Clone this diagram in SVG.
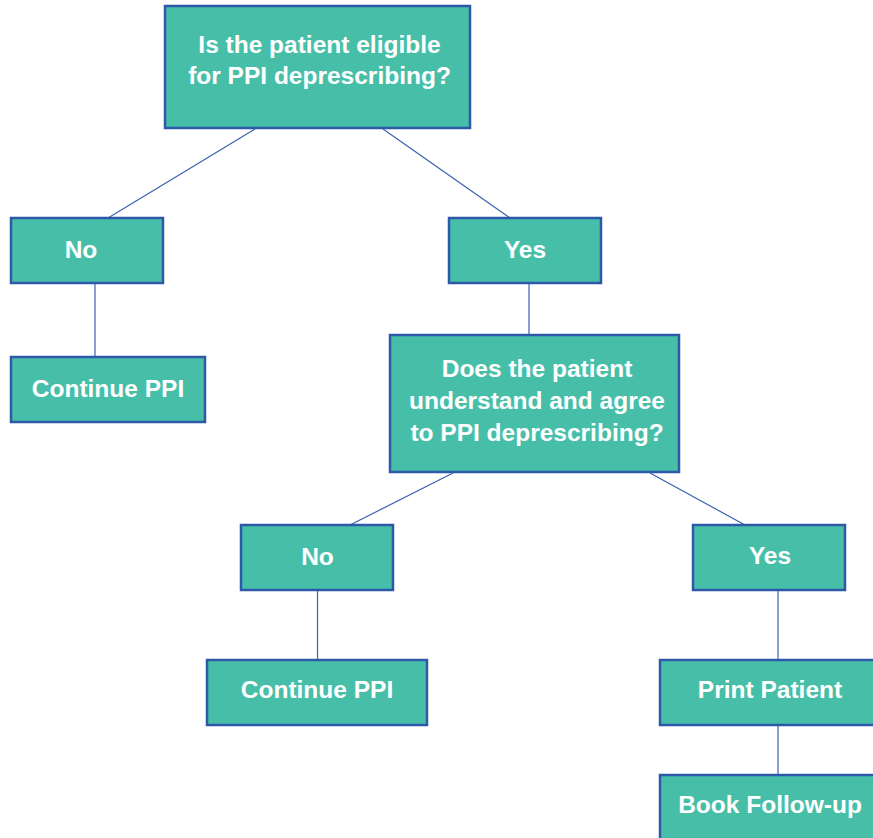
<svg xmlns="http://www.w3.org/2000/svg" width="873" height="838" viewBox="0 0 873 838">
<style>
.box{fill:#47bfa8;stroke:#2e58a8;stroke-width:2.5}
.t{font-family:"Liberation Sans",Arial,sans-serif;font-weight:bold;font-size:24.5px;fill:#ffffff;text-anchor:middle}
.c{stroke:#3a62b0;stroke-width:1.2;fill:none}
</style>
<rect width="873" height="838" fill="#ffffff"/>
<g id="connectors">
<line class="c" x1="255" y1="129" x2="108" y2="218"/>
<line class="c" x1="383" y1="129" x2="510" y2="218"/>
<line class="c" x1="95" y1="284" x2="95" y2="357"/>
<line class="c" x1="529" y1="284" x2="529" y2="335"/>
<line class="c" x1="453" y1="473" x2="350" y2="525"/>
<line class="c" x1="650" y1="473" x2="745" y2="525"/>
<line class="c" x1="317.5" y1="591" x2="317.5" y2="660"/>
<line class="c" x1="778" y1="591" x2="778" y2="660"/>
<line class="c" x1="778" y1="725" x2="778" y2="775"/>
</g>
<g id="q1">
<rect class="box" x="165" y="6" width="305" height="122"/>
<text class="t" x="319.5" y="53">Is the patient eligible</text>
<text class="t" x="319.5" y="84">for PPI deprescribing?</text>
</g>
<g id="no1">
<rect class="box" x="11" y="218" width="152" height="65"/>
<text class="t" x="81" y="258">No</text>
</g>
<g id="cont1">
<rect class="box" x="11" y="357" width="194" height="65"/>
<text class="t" x="108" y="396.5">Continue PPI</text>
</g>
<g id="yes1">
<rect class="box" x="449" y="218" width="152" height="65"/>
<text class="t" x="525" y="258">Yes</text>
</g>
<g id="q2">
<rect class="box" x="390" y="335" width="289" height="137"/>
<text class="t" x="537" y="376.5">Does the patient</text>
<text class="t" x="537" y="408.5">understand and agree</text>
<text class="t" x="537" y="440.5">to PPI deprescribing?</text>
</g>
<g id="no2">
<rect class="box" x="241" y="525" width="152" height="65"/>
<text class="t" x="317.5" y="565">No</text>
</g>
<g id="cont2">
<rect class="box" x="207" y="660" width="220" height="65"/>
<text class="t" x="317" y="698">Continue PPI</text>
</g>
<g id="yes2">
<rect class="box" x="693" y="525" width="152" height="65"/>
<text class="t" x="770" y="564">Yes</text>
</g>
<g id="print">
<rect class="box" x="660" y="660" width="220" height="65"/>
<text class="t" x="770" y="698">Print Patient</text>
</g>
<g id="book">
<rect class="box" x="660" y="775" width="220" height="70"/>
<text class="t" x="770" y="813">Book Follow-up</text>
</g>
</svg>
